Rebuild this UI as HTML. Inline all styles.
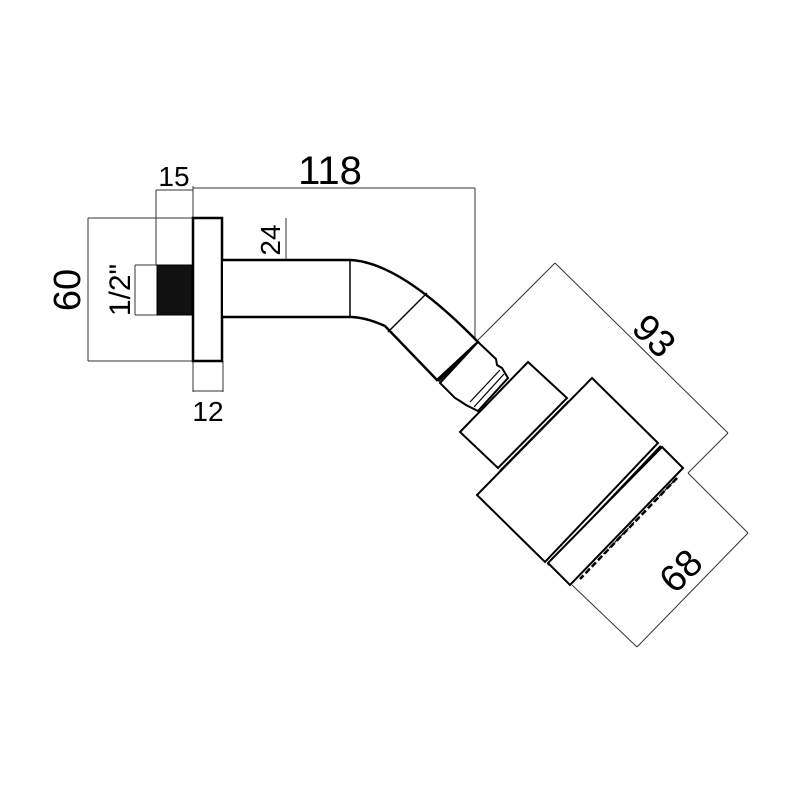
<!DOCTYPE html>
<html><head><style>html,body{margin:0;padding:0;background:#fff;width:800px;height:800px;overflow:hidden}</style></head>
<body>
<svg width="800" height="800" viewBox="0 0 800 800" xmlns="http://www.w3.org/2000/svg" font-family="Liberation Sans, sans-serif" fill="none" stroke="#000">
<!-- dimension lines -->
<g stroke="#333" stroke-width="1">
<line x1="193" y1="188" x2="475" y2="188"/>
<line x1="475" y1="188" x2="475" y2="342"/>
<line x1="193" y1="186" x2="193" y2="217"/>
<line x1="156" y1="190" x2="193" y2="190"/>
<line x1="156" y1="190" x2="156" y2="265"/>
<line x1="88" y1="218" x2="193" y2="218"/>
<line x1="88" y1="361" x2="193" y2="361"/>
<line x1="88" y1="218" x2="88" y2="361"/>
<line x1="135" y1="265" x2="157" y2="265"/>
<line x1="135" y1="315" x2="157" y2="315"/>
<line x1="135" y1="265" x2="135" y2="315"/>
<line x1="286" y1="218" x2="286" y2="317"/>
<line x1="193" y1="361" x2="193" y2="392"/>
<line x1="223" y1="361" x2="223" y2="392"/>
<line x1="193" y1="391" x2="223" y2="391"/>
<line x1="555" y1="263" x2="728" y2="433"/>
<line x1="555" y1="263" x2="478" y2="340"/>
<line x1="728" y1="433" x2="688" y2="473"/>
<line x1="688" y1="473" x2="748" y2="533"/>
<line x1="748" y1="533" x2="637" y2="647"/>
<line x1="572" y1="585" x2="637" y2="647"/>
</g>
<!-- wall flange & thread -->
<rect x="157" y="265" width="35" height="50" fill="#111" stroke="#000"/>
<rect x="193" y="218" width="29" height="143" stroke-width="2.5" fill="#fff"/>
<!-- arm -->
<path d="M223 260 L350 260 Q400 262 478 342 L437 380 L385 326 Q365 317 350 317 L223 317" stroke-width="2.5" fill="#fff"/>
<line x1="350" y1="260" x2="350" y2="317" stroke-width="1.5"/>
<line x1="427" y1="293" x2="388" y2="332" stroke-width="1.5"/>
<line x1="475" y1="345" x2="438" y2="381" stroke-width="3"/>
<!-- nut -->
<path d="M478 342 L496 359 L497 365 L502 368 L508 378 L478 411 L466 405 L460 401 L455 398 L440 383 Z" stroke-width="2" fill="#fff"/>
<line x1="500" y1="370" x2="470" y2="402" stroke-width="1.2"/>
<line x1="504" y1="374" x2="474" y2="407" stroke-width="1.2"/>
<!-- head top part -->
<path d="M528 362 L567 398 L498 468 L460 432 Z" stroke-width="2" fill="#fff"/>
<line x1="569" y1="401" x2="500" y2="471" stroke-width="2"/>
<!-- main body -->
<path d="M592 378 L658 443 L545 562 L477 495 Z" stroke-width="2" fill="#fff"/>
<line x1="661" y1="446" x2="548" y2="565" stroke-width="2.5"/>
<!-- face ring -->
<path d="M662 447 L683 468 L570 585 L548 563 Z" stroke-width="2" fill="#fff"/>
<line x1="677" y1="478" x2="580" y2="579" stroke-width="2.5" stroke-dasharray="6 3"/>
<line x1="673" y1="482" x2="588" y2="570" stroke-width="1.2" stroke-dasharray="4 4"/>
<!-- labels -->
<g fill="#000" stroke="none">
<text x="330" y="184" font-size="40" text-anchor="middle">118</text>
<text x="174" y="186" font-size="28" text-anchor="middle">15</text>
<text x="208" y="421" font-size="28" text-anchor="middle">12</text>
<text transform="translate(80,290) rotate(-90)" font-size="38" text-anchor="middle">60</text>
<text transform="translate(130,290) rotate(-90)" font-size="30" text-anchor="middle">1/2"</text>
<text transform="translate(280,240) rotate(-90)" font-size="28" text-anchor="middle">24</text>
<text transform="translate(645,345) rotate(45)" font-size="38" text-anchor="middle">93</text>
<text transform="translate(690,580) rotate(-45)" font-size="38" text-anchor="middle">68</text>
</g>
</svg>
</body></html>
